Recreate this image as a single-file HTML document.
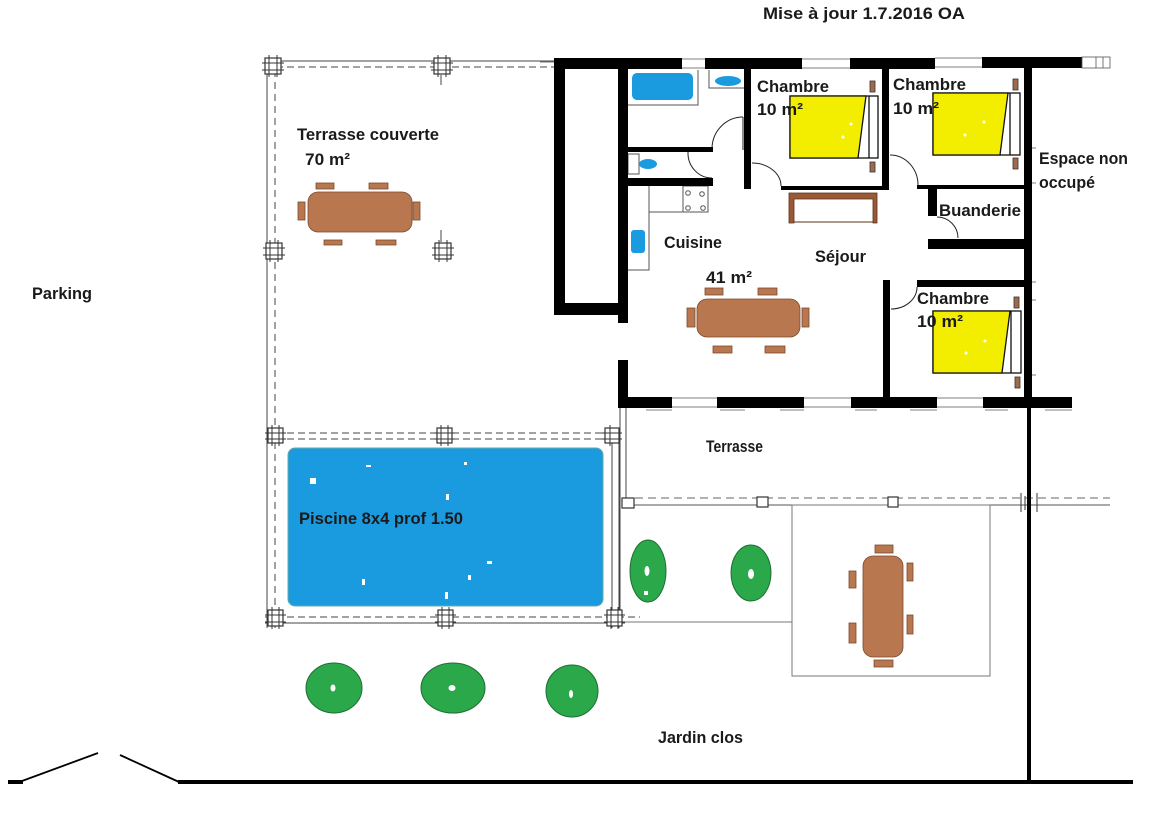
<!DOCTYPE html>
<html><head><meta charset="utf-8"><style>
html,body{margin:0;padding:0;background:#fff;}
svg{display:block;}
text{font-family:"Liberation Sans",sans-serif;font-weight:bold;fill:#1a1a1a;font-size:16.5px;}
</style></head><body>
<svg width="1152" height="833" viewBox="0 0 1152 833" xmlns="http://www.w3.org/2000/svg">
<rect width="1152" height="833" fill="#fff"/>

<!-- ===== Covered terrace structure ===== -->
<g stroke="#444" fill="none" stroke-width="1">
  <line x1="265" y1="61" x2="556" y2="61"/>
  <line x1="265" y1="67" x2="556" y2="67" stroke-dasharray="7,4"/>
  <line x1="267" y1="58" x2="267" y2="628"/>
  <line x1="275" y1="58" x2="275" y2="628" stroke-dasharray="7,5"/>
  <!-- pool frame -->
  <line x1="265" y1="433" x2="620" y2="433" stroke-dasharray="7,4"/>
  <line x1="265" y1="439" x2="620" y2="439" stroke-dasharray="7,4"/>
  <line x1="265" y1="617" x2="640" y2="617" stroke-dasharray="7,4"/>
  <line x1="265" y1="623" x2="625" y2="623"/>
  <line x1="612" y1="433" x2="612" y2="628"/>
  <line x1="619" y1="433" x2="619" y2="628"/>
  <line x1="441" y1="75" x2="441" y2="85" />
  <line x1="441" y1="230" x2="441" y2="242" />
  <!-- lower terrace -->
  <line x1="620" y1="408" x2="620" y2="622"/>
  <line x1="626" y1="408" x2="626" y2="505"/>
  <line x1="622" y1="498" x2="1110" y2="498" stroke-dasharray="8,5" stroke="#666"/>
  <line x1="622" y1="505" x2="1110" y2="505" stroke="#555"/>
  <line x1="620" y1="622" x2="792" y2="622" stroke="#777"/>
  <rect x="792" y="505" width="198" height="171" stroke="#777"/>
</g>

<!-- posts -->
<g stroke="#333" fill="#fff" stroke-width="1.2">
  <rect x="265" y="58" width="16" height="16"/><rect x="434" y="58" width="16" height="16"/>
  <rect x="266" y="243" width="16" height="16"/><rect x="435" y="243" width="16" height="16"/>
  <rect x="268" y="428" width="15" height="15"/><rect x="437" y="428" width="15" height="15"/><rect x="605" y="428" width="14" height="15"/>
  <rect x="268" y="610" width="15" height="16"/><rect x="438" y="610" width="15" height="16"/><rect x="607" y="610" width="15" height="16"/>
  <rect x="622" y="498" width="12" height="10"/><rect x="757" y="497" width="11" height="10"/><rect x="888" y="497" width="10" height="10"/>
</g>
<g stroke="#333" stroke-width="1">
  <path d="M262 63H284M262 70H284M269 55V77M277 55V77"/>
  <path d="M431 63H453M431 70H453M438 55V77M446 55V77"/>
  <path d="M263 248H285M263 255H285M270 240V262M278 240V262"/>
  <path d="M432 248H454M432 255H454M439 240V262M447 240V262"/>
  <path d="M265 433H286M265 439H286M272 425V446M279 425V446"/>
  <path d="M434 433H455M434 439H455M441 425V446M448 425V446"/>
  <path d="M602 433H622M602 439H622M610 425V446"/>
  <path d="M265 615H286M265 622H286M272 607V629M279 607V629"/>
  <path d="M435 615H456M435 622H456M442 607V629M449 607V629"/>
  <path d="M604 615H625M604 622H625M611 607V629M618 607V629"/>
  <path d="M1021 493V512M1037 493V512M1025 496V510"/>
</g>

<!-- pool -->
<rect x="288" y="448" width="315" height="158" rx="7" fill="#1a9be0" stroke="#6aa" stroke-width="1"/>
<g fill="#fff">
  <rect x="310" y="478" width="6" height="6"/><rect x="446" y="494" width="3" height="6"/>
  <rect x="362" y="579" width="3" height="6"/><rect x="468" y="575" width="3" height="5"/>
  <rect x="445" y="592" width="3" height="7"/><rect x="487" y="561" width="5" height="3"/>
  <rect x="464" y="462" width="3" height="3"/><rect x="366" y="465" width="5" height="2"/>
</g>

<!-- furniture: covered terrace table -->
<g fill="#b8774f" stroke="#7a4a2e" stroke-width="0.8">
  <rect x="308" y="192" width="104" height="40" rx="10"/>
  <rect x="316" y="183" width="18" height="6"/><rect x="369" y="183" width="19" height="6"/>
  <rect x="324" y="240" width="18" height="5"/><rect x="376" y="240" width="20" height="5"/>
  <rect x="298" y="202" width="7" height="18"/><rect x="413" y="202" width="7" height="18"/>
  <!-- séjour table -->
  <rect x="697" y="299" width="103" height="38" rx="10"/>
  <rect x="705" y="288" width="18" height="7"/><rect x="758" y="288" width="19" height="7"/>
  <rect x="713" y="346" width="19" height="7"/><rect x="765" y="346" width="20" height="7"/>
  <rect x="687" y="308" width="8" height="19"/><rect x="802" y="308" width="7" height="19"/>
  <!-- garden table -->
  <rect x="863" y="556" width="40" height="101" rx="10"/>
  <rect x="875" y="545" width="18" height="8"/><rect x="874" y="660" width="19" height="7"/>
  <rect x="849" y="571" width="7" height="17"/><rect x="849" y="623" width="7" height="20"/>
  <rect x="907" y="563" width="6" height="18"/><rect x="907" y="615" width="6" height="19"/>
</g>

<!-- sofa -->
<path d="M789 223V193H877V223H873V199H794V223Z" fill="#9a5a35" stroke="#5a3018" stroke-width="0.8"/>
<line x1="794" y1="222" x2="873" y2="222" stroke="#5a3018" stroke-width="1"/>

<!-- beds -->
<g stroke="#111" stroke-width="1.3">
  <rect x="790" y="96" width="88" height="62" fill="#fff"/>
  <polygon points="790,96 866,96 858,158 790,158" fill="#f3ee00"/>
  <line x1="869" y1="96" x2="869" y2="158"/>
  <rect x="933" y="93" width="87" height="62" fill="#fff"/>
  <polygon points="933,93 1008,93 1000,155 933,155" fill="#f3ee00"/>
  <line x1="1010" y1="93" x2="1010" y2="155"/>
  <rect x="933" y="311" width="88" height="62" fill="#fff"/>
  <polygon points="933,311 1010,311 1002,373 933,373" fill="#f3ee00"/>
  <line x1="1011" y1="311" x2="1011" y2="373"/>
</g>
<g fill="#fff">
  <circle cx="843" cy="137" r="1.5"/><circle cx="851" cy="124" r="1.5"/>
  <circle cx="965" cy="135" r="1.5"/><circle cx="984" cy="122" r="1.5"/>
  <circle cx="966" cy="353" r="1.5"/><circle cx="985" cy="341" r="1.5"/>
</g>
<!-- nightstands -->
<g fill="#a06a4c" stroke="#333" stroke-width="0.8">
  <rect x="870" y="81" width="5" height="11"/><rect x="870" y="162" width="5" height="10"/>
  <rect x="1013" y="79" width="5" height="11"/><rect x="1013" y="158" width="5" height="11"/>
  <rect x="1014" y="297" width="5" height="11"/><rect x="1015" y="377" width="5" height="11"/>
</g>

<!-- bathroom / kitchen fixtures -->
<g stroke="#555" stroke-width="1" fill="none">
  <path d="M628 105H698V70"/>
  <path d="M709 70V88H744"/>
  <rect x="628" y="154" width="11" height="20"/>
  <path d="M649 186V270H628M649 212H708"/>
  <rect x="683" y="186" width="25" height="26"/>
  <circle cx="688" cy="193" r="2.3"/><circle cx="702" cy="194" r="2.3"/>
  <circle cx="688" cy="208" r="2.3"/><circle cx="703" cy="208" r="2.3"/>
</g>
<rect x="632" y="73" width="61" height="27" rx="5" fill="#1a9be0"/>
<ellipse cx="728" cy="81" rx="13" ry="5" fill="#1a9be0"/>
<ellipse cx="648" cy="164" rx="9" ry="5" fill="#1a9be0"/>
<rect x="631" y="230" width="14" height="23" rx="3" fill="#1a9be0"/>

<!-- door arcs -->
<g stroke="#222" stroke-width="1" fill="none">
  <path d="M712 149 A31 32 0 0 1 743 117"/>
  <line x1="743" y1="117" x2="743" y2="150"/>
  <path d="M688 152 A24 25 0 0 0 712 178"/>
  <path d="M752 163 A29 23 0 0 1 781 186"/>
  <path d="M890 155 A28 30 0 0 1 918 185"/>
  <path d="M937 217 A21 21 0 0 1 958 238"/>
  <path d="M891 309 A26 22 0 0 0 917 287"/>
</g>

<!-- ===== Walls ===== -->
<g fill="#000">
  <rect x="554" y="58" width="128" height="11"/>
  <rect x="705" y="58" width="97" height="11"/>
  <rect x="850" y="58" width="85" height="11"/>
  <rect x="982" y="57" width="100" height="11"/>
  <rect x="554" y="58" width="11" height="257"/>
  <rect x="554" y="303" width="74" height="12"/>
  <rect x="618" y="58" width="10" height="265"/>
  <rect x="744" y="58" width="7" height="131"/>
  <rect x="628" y="147" width="85" height="5"/>
  <rect x="628" y="178" width="85" height="8"/>
  <rect x="781" y="186" width="108" height="4"/>
  <rect x="882" y="58" width="7" height="132"/>
  <rect x="917" y="185" width="107" height="4"/>
  <rect x="928" y="189" width="9" height="27"/>
  <rect x="928" y="239" width="96" height="10"/>
  <rect x="917" y="280" width="107" height="7"/>
  <rect x="883" y="280" width="7" height="120"/>
  <rect x="1024" y="57" width="8" height="351"/>
  <rect x="1027" y="407" width="4" height="376"/>
  <rect x="618" y="360" width="10" height="48"/>
  <rect x="618" y="397" width="54" height="11"/>
  <rect x="717" y="397" width="87" height="11"/>
  <rect x="851" y="397" width="86" height="11"/>
  <rect x="983" y="397" width="89" height="11"/>
</g>
<!-- windows -->
<g stroke="#555" stroke-width="0.8" fill="none">
  <path d="M682 59H705M682 68H705"/>
  <path d="M802 59H850M802 68H850"/>
  <path d="M935 58H982M935 67H982"/>
  <rect x="1082" y="57" width="28" height="11"/>
  <path d="M1096 57V68M1103 57V68"/>
  <path d="M672 398H717M672 407H717"/>
  <path d="M804 398H851M804 407H851"/>
  <path d="M937 398H983M937 407H983"/>
  <path d="M540 62H554"/>
  <path d="M646 410H672M720 410H745M780 410H804M855 410H877M910 410H937M985 410H1008M1045 410H1072"/>
  <path d="M1032 148H1036M1032 183H1036M1032 282H1036M1032 300H1036M1032 375H1036"/>
</g>

<!-- trees -->
<g fill="#2aa84a" stroke="#1f6e33" stroke-width="1">
  <ellipse cx="648" cy="571" rx="18" ry="31"/>
  <ellipse cx="751" cy="573" rx="20" ry="28"/>
  <ellipse cx="334" cy="688" rx="28" ry="25"/>
  <ellipse cx="453" cy="688" rx="32" ry="25"/>
  <ellipse cx="572" cy="691" rx="26" ry="26"/>
</g>
<g fill="#fff">
  <ellipse cx="647" cy="571" rx="2.5" ry="5"/><rect x="644" y="591" width="4" height="4"/>
  <ellipse cx="751" cy="574" rx="3" ry="5"/>
  <ellipse cx="333" cy="688" rx="2.5" ry="3.5"/>
  <ellipse cx="452" cy="688" rx="3.5" ry="3"/>
  <ellipse cx="571" cy="694" rx="2" ry="4"/>
</g>

<!-- ground line & gate -->
<g stroke="#000" fill="none">
  <line x1="178" y1="782" x2="1133" y2="782" stroke-width="4"/>
  <line x1="8" y1="782" x2="23" y2="782" stroke-width="4"/>
  <line x1="22" y1="781" x2="98" y2="753" stroke-width="1.8"/>
  <line x1="120" y1="755" x2="179" y2="782" stroke-width="1.8"/>
</g>

<!-- ===== Labels ===== -->
<text x="763" y="19" font-size="15" textLength="202" lengthAdjust="spacingAndGlyphs">Mise à jour 1.7.2016 OA</text>
<text x="297" y="140" textLength="142" lengthAdjust="spacingAndGlyphs">Terrasse couverte</text>
<text x="305" y="165" textLength="45" lengthAdjust="spacingAndGlyphs">70 m²</text>
<text x="32" y="299" textLength="60" lengthAdjust="spacingAndGlyphs">Parking</text>
<text x="757" y="92" textLength="72" lengthAdjust="spacingAndGlyphs">Chambre</text>
<text x="757" y="115" textLength="46" lengthAdjust="spacingAndGlyphs">10 m²</text>
<text x="893" y="90" textLength="73" lengthAdjust="spacingAndGlyphs">Chambre</text>
<text x="893" y="114" textLength="46" lengthAdjust="spacingAndGlyphs">10 m²</text>
<text x="1039" y="164" textLength="89" lengthAdjust="spacingAndGlyphs">Espace non</text>
<text x="1039" y="188" textLength="56" lengthAdjust="spacingAndGlyphs">occupé</text>
<text x="939" y="216" textLength="82" lengthAdjust="spacingAndGlyphs">Buanderie</text>
<text x="664" y="248" textLength="58" lengthAdjust="spacingAndGlyphs">Cuisine</text>
<text x="815" y="262" textLength="51" lengthAdjust="spacingAndGlyphs">Séjour</text>
<text x="706" y="283" textLength="46" lengthAdjust="spacingAndGlyphs">41 m²</text>
<text x="917" y="304" textLength="72" lengthAdjust="spacingAndGlyphs">Chambre</text>
<text x="917" y="327" textLength="46" lengthAdjust="spacingAndGlyphs">10 m²</text>
<text x="706" y="452" font-size="14.5" textLength="57" lengthAdjust="spacingAndGlyphs">Terrasse</text>
<text x="299" y="524" textLength="164" lengthAdjust="spacingAndGlyphs">Piscine 8x4 prof 1.50</text>
<text x="658" y="743" textLength="85" lengthAdjust="spacingAndGlyphs">Jardin clos</text>
</svg>
</body></html>
